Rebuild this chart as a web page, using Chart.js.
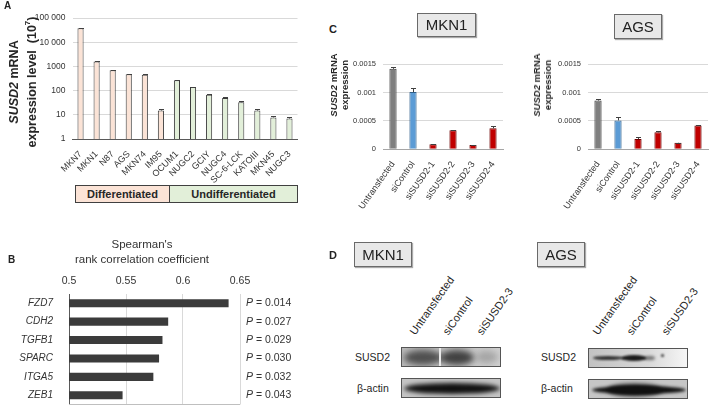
<!DOCTYPE html>
<html><head><meta charset="utf-8">
<script src="https://cdn.jsdelivr.net/npm/chart.js@4.4.1/dist/chart.umd.min.js"></script>
<style>
html,body{margin:0;padding:0;background:#fff;}
body{width:709px;height:406px;position:relative;overflow:hidden;font-family:"Liberation Sans",Arial,sans-serif;color:#262626;}
canvas{position:absolute;}
.plab{position:absolute;font-weight:bold;font-size:10px;color:#222;}
.box{position:absolute;background:#e8e8e8;border:1px solid #6a6a6a;box-sizing:border-box;text-align:center;font-size:15px;box-shadow:1px 1px 1px #aaa;color:#222;}
.rot{position:absolute;transform:translate(-50%,-50%) rotate(-90deg);white-space:nowrap;text-align:center;font-weight:bold;color:#262626;}
.grp{position:absolute;top:185px;height:18px;box-sizing:border-box;border:1px solid #404040;font-weight:bold;font-size:11px;text-align:center;line-height:16px;}
.lane{position:absolute;font-size:11px;white-space:nowrap;transform-origin:0 100%;transform:rotate(-55deg);line-height:12px;color:#262626;}
.blot{position:absolute;width:100px;height:20px;box-sizing:border-box;border:1px solid #555;overflow:hidden;}
.band{position:absolute;border-radius:50%;}
.bl{position:absolute;font-size:10.5px;color:#262626;}
</style></head><body>

<canvas id="cA" width="305" height="185" style="left:0;top:0;width:305px;height:185px"></canvas>
<canvas id="cB" width="300" height="141" style="left:0;top:265px;width:300px;height:141px"></canvas>
<canvas id="cC1" width="205" height="160" style="left:300px;top:50px;width:205px;height:160px"></canvas>
<canvas id="cC2" width="204" height="160" style="left:505px;top:50px;width:204px;height:160px"></canvas>

<!-- Panel A text -->
<div class="plab" style="left:4px;top:0px;">A</div>
<div class="rot" style="left:23px;top:82px;font-size:12.5px;line-height:14px;"><i>SUSD2</i> mRNA<br>expression level&nbsp; (10<sup style="font-size:8px;">7</sup>)</div>
<div class="grp" style="left:75px;width:95px;background:#fbe3d6;">Differentiated</div>
<div class="grp" style="left:169px;width:129px;background:#e2efd9;">Undifferentiated</div>

<!-- Panel B text -->
<div class="plab" style="left:8px;top:254px;">B</div>
<div style="position:absolute;left:42px;width:200px;top:237px;text-align:center;font-size:11.5px;line-height:15px;color:#333;">Spearman's<br>rank correlation coefficient</div>

<!-- Panel C text -->
<div class="plab" style="left:329px;top:23px;font-size:11px;">C</div>
<div class="box" style="left:417px;top:13px;width:59px;height:24px;line-height:22px;">MKN1</div>
<div class="box" style="left:614px;top:14px;width:48px;height:25px;line-height:23px;">AGS</div>
<div class="rot" style="left:339px;top:85px;font-size:9.5px;line-height:11px;"><i>SUSD2</i> mRNA<br>expression</div>
<div class="rot" style="left:542px;top:85px;font-size:9.5px;line-height:11px;"><i>SUSD2</i> mRNA<br>expression</div>

<!-- Panel D -->
<div class="plab" style="left:329px;top:249px;font-size:11px;">D</div>
<div class="box" style="left:354px;top:242px;width:58px;height:25px;line-height:23px;">MKN1</div>
<div class="box" style="left:537px;top:242px;width:48px;height:25px;line-height:23px;">AGS</div>
<div id="lanes"></div>

<div class="bl" style="left:355px;top:351px;">SUSD2</div>
<div class="bl" style="left:357px;top:382px;">β-actin</div>
<div class="bl" style="left:541px;top:351px;">SUSD2</div>
<div class="bl" style="left:541px;top:382px;">β-actin</div>

<div class="blot" style="left:401px;top:347px;background:linear-gradient(90deg,#b9b9b9,#c4c4c4 60%,#cfcfcf);">
  <div class="band" style="left:2px;top:2px;width:38px;height:15px;background:#3d3d3d;filter:blur(3px);opacity:.85;"></div>
  <div class="band" style="left:38px;top:2px;width:34px;height:15px;background:#333;filter:blur(3px);opacity:.9;"></div>
  <div style="position:absolute;left:37px;top:0;width:2px;height:20px;background:#e8e8e8;"></div>
  <div class="band" style="left:74px;top:3px;width:22px;height:12px;background:#777;filter:blur(3px);opacity:.45;"></div>
</div>
<div class="blot" style="left:401px;top:378px;background:#c4c4c4;">
  <div class="band" style="left:2px;top:4px;width:96px;height:11px;background:#111;filter:blur(2px);"></div>
</div>
<div class="blot" style="left:588px;top:348px;background:linear-gradient(90deg,#c2c2c2,#d8d8d8 60%,#f6f6f6);">
  <div class="band" style="left:4px;top:7px;width:30px;height:4px;background:#333;filter:blur(1.2px);"></div>
  <div class="band" style="left:32px;top:6px;width:26px;height:6px;background:#1a1a1a;filter:blur(1.2px);"></div>
  <div class="band" style="left:56px;top:7px;width:10px;height:4px;background:#444;filter:blur(1.5px);opacity:.7"></div>
  <div class="band" style="left:72px;top:5px;width:3px;height:3px;background:#333;filter:blur(.8px);"></div>
</div>
<div class="blot" style="left:588px;top:379px;background:#c6c6c6;">
  <div class="band" style="left:3px;top:6px;width:94px;height:8px;background:#111;filter:blur(1.8px);"></div>
  <div class="band" style="left:18px;top:4px;width:55px;height:12px;background:#111;filter:blur(2px);"></div>
</div>

<script>
// ---------- data ----------
const cellLines = ['MKN7','MKN1','N87','AGS','MKN74','IM95','OCUM1','NUGC2','GCIY','NUGC4','SC-6-LCK','KATOIII','MKN45','NUGC3'];
const cellGroup = ['D','D','D','D','D','D','U','U','U','U','U','U','U','U'];
const expressionLevel = [38000,1600,700,470,450,15,270,140,68,50,33,15,7.8,7];
const expressionError = [2000,120,30,20,20,3,15,6,5,3,4,2.5,1.3,0.9];
const expressionTickValues = [1,10,100,1000,10000,100000];
const expressionTickLabels = ['1','10','100','1000','10 000','100 000'];

const genes = ['FZD7','CDH2','TGFB1','SPARC','ITGA5','ZEB1'];
const spearmanRho = [0.640,0.587,0.582,0.579,0.574,0.547];
const pValues = ['0.014','0.027','0.029','0.030','0.032','0.043'];
const rhoTickLabels = ['0.5','0.55','0.6','0.65'];

const siConditions = ['Untransfected','siControl','siSUSD2-1','siSUSD2-2','siSUSD2-3','siSUSD2-4'];
const mkn1Expression = [0.00142,0.00101,0.000088,0.000335,0.000076,0.00037];
const mkn1Error = [0.00004,0.00008,0.000004,0.000004,0.000004,0.00005];
const agsExpression = [0.00086,0.00051,0.00018,0.00030,0.000115,0.00042];
const agsError = [0.00002,0.00006,0.00004,0.00002,0.000004,0.00001];
const siTickLabels = ['0','0.0005','0.001','0.0015'];

const blotLanes = ['Untransfected','siControl','siSUSD2-3'];

// ---------- helpers ----------
const FONT = '"Liberation Sans", Arial, sans-serif';
Chart.defaults.font.family = FONT;
Chart.defaults.color = '#333';
Chart.defaults.animation = false;
Chart.defaults.plugins.legend.display = false;
Chart.defaults.plugins.tooltip.enabled = false;

const errorBars = {
  id: 'errbars',
  afterDatasetsDraw(chart, args, opts) {
    const errs = opts.errors; if (!errs) return;
    const meta = chart.getDatasetMeta(0), ys = chart.scales.y, ctx = chart.ctx;
    const vals = chart.data.datasets[0].data;
    ctx.save(); ctx.strokeStyle = opts.color || '#404040'; ctx.lineWidth = 1;
    meta.data.forEach((bar, i) => {
      const e = errs[i]; if (!e) return;
      const y0 = ys.getPixelForValue(vals[i]), y1 = ys.getPixelForValue(vals[i] + e);
      const x = Math.round(bar.x) + 0.5, yt = Math.round(y1) + 0.5;
      ctx.beginPath();
      ctx.moveTo(x, y0); ctx.lineTo(x, yt);
      ctx.moveTo(x - 2.5, yt); ctx.lineTo(x + 2.5, yt);
      ctx.stroke();
    });
    ctx.restore();
  }
};

function fixX(h) { return s => { s.height = h; s.paddingLeft = 0; s.paddingRight = 0; }; }
function fixY(w) { return s => { s.width = w; s.paddingTop = 0; s.paddingBottom = 0; }; }

// ---------- Panel A ----------
new Chart(document.getElementById('cA'), {
  type: 'bar',
  data: { labels: cellLines, datasets: [{
    data: expressionLevel,
    backgroundColor: cellGroup.map(g => g === 'D' ? '#fbe3d6' : '#e2efd9'),
    borderColor: '#3a3a3a', borderWidth: 1,
    barPercentage: 0.38, categoryPercentage: 1
  }]},
  options: {
    responsive: false,
    layout: { padding: { top: 18, right: 7.5, left: 0, bottom: 0 } },
    plugins: { errbars: { errors: expressionError } },
    scales: {
      y: {
        type: 'logarithmic', min: 1, max: 100000,
        afterBuildTicks: s => { s.ticks = expressionTickValues.map(v => ({ value: v })); },
        ticks: { callback: v => expressionTickLabels[expressionTickValues.indexOf(v)], font: { size: 8.5 }, padding: 7, color: '#333' },
        grid: { color: '#d9d9d9', drawTicks: false },
        border: { display: false },
        afterFit: fixY(72.5)
      },
      x: {
        grid: { display: false },
        border: { color: '#595959' },
        ticks: { maxRotation: 45, minRotation: 45, autoSkip: false, font: { size: 9 }, padding: 2, color: '#333' },
        afterFit: fixX(46)
      }
    }
  },
  plugins: [errorBars]
});

// ---------- Panel B ----------
const pLabels = {
  id: 'plabels',
  afterDraw(chart) {
    const ctx = chart.ctx, ys = chart.scales.y, a = chart.chartArea;
    ctx.save();
    ctx.strokeStyle = '#bfbfbf'; ctx.lineWidth = 1;
    ctx.beginPath(); ctx.moveTo(a.left, Math.round(a.bottom) - 0.5); ctx.lineTo(a.right, Math.round(a.bottom) - 0.5); ctx.stroke();
    ctx.fillStyle = '#333'; ctx.textBaseline = 'middle'; ctx.textAlign = 'left';
    genes.forEach((g, i) => {
      const y = ys.getPixelForValue(i);
      let x = a.right + 6;
      ctx.font = 'italic 10.5px ' + FONT; ctx.fillText('P', x, y);
      x += ctx.measureText('P').width;
      ctx.font = '10.5px ' + FONT; ctx.fillText(' = ' + pValues[i], x, y);
    });
    ctx.restore();
  }
};
new Chart(document.getElementById('cB'), {
  type: 'bar',
  data: { labels: genes, datasets: [{
    data: spearmanRho, backgroundColor: '#3b3b3b', borderWidth: 0,
    barPercentage: 0.44, categoryPercentage: 1
  }]},
  options: {
    responsive: false, indexAxis: 'y',
    layout: { padding: { top: 0, right: 60, left: 0, bottom: 1.5 } },
    scales: {
      x: {
        position: 'top', min: 0.5, max: 0.65,
        ticks: { stepSize: 0.05, callback: (v, i) => rhoTickLabels[i], font: { size: 10.5 }, padding: 7, color: '#333' },
        grid: { color: '#d9d9d9', drawTicks: false },
        border: { display: false },
        afterFit: fixX(29)
      },
      y: {
        grid: { display: false },
        border: { color: '#595959' },
        ticks: { font: { size: 10, style: 'italic' }, padding: 8, color: '#333' },
        afterFit: fixY(69)
      }
    }
  },
  plugins: [pLabels]
});

// ---------- Panel C ----------
const siColors = ['#7f7f7f','#5b9bd5','#c00000','#c00000','#c00000','#c00000'];
const siBorders = ['#3a3a3a','#2f5f8a','#6e0000','#6e0000','#6e0000','#6e0000'];
function siChart(id, values, errors, yWidth, rightPad) {
  new Chart(document.getElementById(id), {
    type: 'bar',
    data: { labels: siConditions, datasets: [{
      data: values, backgroundColor: siColors, borderColor: siBorders, borderWidth: 1,
      barPercentage: 0.36, categoryPercentage: 1
    }]},
    options: {
      responsive: false,
      layout: { padding: { top: 14.3, right: rightPad, left: 0, bottom: 0 } },
      plugins: { errbars: { errors: errors } },
      scales: {
        y: {
          min: 0, max: 0.0015,
          ticks: { stepSize: 0.0005, callback: (v, i) => siTickLabels[i], font: { size: 7.5 }, padding: 7, color: '#333' },
          grid: { color: '#d9d9d9', drawTicks: false },
          border: { display: false },
          afterFit: fixY(yWidth)
        },
        x: {
          grid: { display: false },
          border: { color: '#a6a6a6' },
          ticks: { maxRotation: 55, minRotation: 55, autoSkip: false, font: { size: 9 }, padding: 2, color: '#333' },
          afterFit: fixX(60.7)
        }
      }
    },
    plugins: [errorBars]
  });
}
siChart('cC1', mkn1Expression, mkn1Error, 83, 2);
siChart('cC2', agsExpression, agsError, 83, 1);

// ---------- Panel D lane labels ----------
const laneX = { mkn1: [417, 450, 484], ags: [600, 634, 669] };
const lanes = document.getElementById('lanes');
Object.keys(laneX).forEach(k => {
  blotLanes.forEach((t, i) => {
    const d = document.createElement('div');
    d.className = 'lane';
    d.textContent = t;
    d.style.left = laneX[k][i] + 'px';
    d.style.top = (337 - 12) + 'px';
    lanes.appendChild(d);
  });
});
</script>
</body></html>
